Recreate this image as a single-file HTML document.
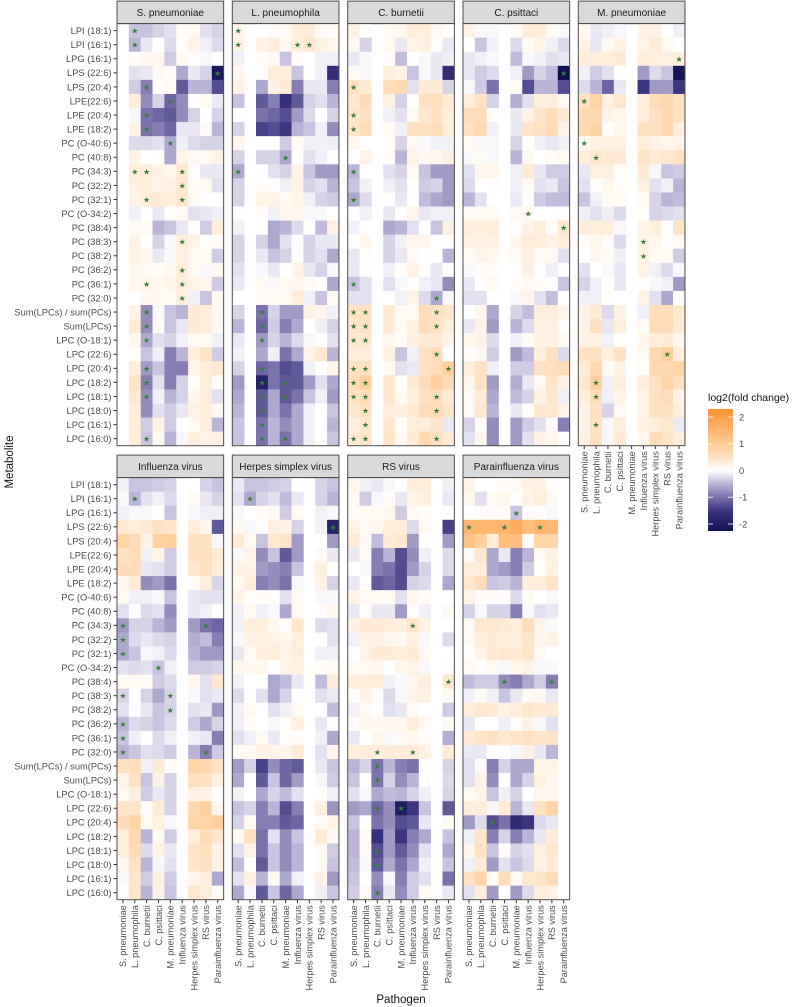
<!DOCTYPE html>
<html><head><meta charset="utf-8">
<style>
html,body{margin:0;padding:0;background:#fff;}
svg{display:block;font-family:"Liberation Sans",Arial,sans-serif;}
</style></head>
<body>
<svg id="chart" width="795" height="1007" viewBox="0 0 795 1007" xmlns="http://www.w3.org/2000/svg">
<text x="0" y="0" transform="translate(13,462) rotate(-90)" text-anchor="middle" font-size="11.5" fill="#111">Metabolite</text>
<text x="401" y="1003" text-anchor="middle" font-size="11.5" fill="#111">Pathogen</text>
</svg>
<script>
const pathogens = ["S. pneumoniae","L. pneumophila","C. burnetii","C. psittaci","M. pneumoniae","Influenza virus","Herpes simplex virus","RS virus","Parainfluenza virus"];
const metabolites = ["LPI (18:1)","LPI (16:1)","LPG (16:1)","LPS (22:6)","LPS (20:4)","LPE(22:6) ","LPE (20:4)","LPE (18:2)","PC (O-40:6)","PC (40:8)","PC (34:3)","PC (32:2)","PC (32:1)","PC (O-34:2)","PC (38:4)","PC (38:3)","PC (38:2)","PC (36:2)","PC (36:1)","PC (32:0)","Sum(LPCs) / sum(PCs)","Sum(LPCs)","LPC (O-18:1)","LPC (22:6)","LPC (20:4)","LPC (18:2)","LPC (18:1)","LPC (18:0)","LPC (16:1)","LPC (16:0)"];
const legendTicks = [2,1,0,-1,-2];
const _ = null;
const valsSpn = [
[_,-0.4,-0.4,-0.3,-0.2,0.1,0.1,-0.2,-0.3],
[_,-0.5,-0.15,0,-0.25,0.05,0.2,-0.1,-0.25],
[_,0.05,0.1,0.15,-0.35,0.1,0.05,-0.05,0],
[_,-0.2,-0.15,0.1,0.05,-0.6,-0.15,-0.3,-2.1],
[_,-0.35,-0.9,0.05,0.1,-1.2,-0.5,-0.5,-1.3],
[_,0.3,-0.8,-0.3,-1.1,-0.8,0,0.1,-0.15],
[_,-0.05,-1.0,-1.1,-1.2,-0.8,-0.3,0,-0.3],
[_,0.2,-1.0,-0.9,-1.1,-0.15,-0.15,0.1,-0.5],
[_,-0.25,-0.25,-0.2,-0.6,-0.1,-0.25,-0.3,-0.3],
[_,0.2,0,0.05,-0.6,0.2,0.1,0.1,0.2],
[_,0.3,0.3,0.2,0.15,0.4,0.05,-0.15,-0.15],
[_,0.25,0.3,0.2,0.2,0.4,0.05,0.1,-0.2],
[_,0.2,0.3,0.35,0.3,0.4,0.1,0,0],
[_,-0.1,0,-0.15,0.05,0.1,-0.2,-0.15,-0.1],
[_,0.1,0.1,-0.5,-0.4,-0.15,0.05,-0.35,0.3],
[_,0.2,0,-0.3,-0.05,0.3,0.2,0,0.05],
[_,0.2,0.15,-0.15,-0.05,0.25,0.1,0.1,-0.35],
[_,0.15,0.1,0.05,0.15,0.3,0.1,-0.05,0.1],
[_,0.15,0.2,0.1,0.2,0.3,0.2,0.15,-0.35],
[_,0,0.15,0.1,0.1,0.3,-0.1,-0.4,0.1],
[_,0.2,-0.8,-0.05,-0.4,-0.5,0.35,0.3,0.1],
[_,0.35,-0.8,0.1,-0.4,-0.15,0.35,0.3,0.1],
[_,0.15,-0.6,-0.2,-0.3,-0.1,0.1,0.1,-0.1],
[_,0.05,-0.4,-0.1,-0.9,-0.5,0.3,0.45,-0.35],
[_,0.3,-0.7,-0.4,-0.9,-0.9,0.2,0.3,0.4],
[_,0.45,-0.9,-0.2,-0.9,-0.3,0.05,0.3,0.05],
[_,0.4,-0.8,-0.1,-0.5,-0.3,0.15,0.3,-0.2],
[_,0.3,-0.8,-0.2,-0.35,-0.15,0.2,0.3,0.1],
[_,0.3,-0.35,0.2,-0.35,0,0.1,0.3,-0.5],
[_,0.3,-0.4,0.1,-0.5,-0.05,0.3,0.2,0.2]];
const valsLpn = [
[0.15,_,0,0.05,0.1,0.3,0.3,0.1,0.05],
[0.2,_,0.2,0.3,0.1,0.3,0.4,0.25,0.15],
[-0.1,_,0.05,0.1,-0.4,0.05,0,-0.1,-0.1],
[0.15,_,0.05,0.3,0.3,-0.4,0.05,-0.1,-1.6],
[0.2,_,-0.6,0.2,0.35,-0.9,-0.15,-0.15,-0.9],
[-0.4,_,-1.2,-0.9,-1.6,-1.2,-0.3,-0.2,-0.5],
[0.05,_,-1.0,-1.1,-1.3,-0.7,-0.25,0,-0.3],
[-0.3,_,-1.4,-1.3,-1.5,-0.5,-0.4,-0.1,-0.8],
[0.15,_,0,0,-0.35,0.1,-0.1,-0.1,-0.1],
[-0.3,_,-0.3,-0.3,-0.6,0,-0.2,-0.1,0],
[-0.6,_,0,-0.2,-0.3,0.2,-0.4,-0.7,-0.7],
[-0.3,_,0.05,0,-0.1,0.2,-0.3,-0.2,-0.5],
[-0.3,_,0.2,0.2,0.1,0.2,-0.1,-0.3,-0.35],
[0.05,_,0.05,-0.1,0.15,0.15,-0.05,-0.05,0],
[-0.1,_,0,-0.6,-0.5,-0.25,0,-0.45,0.25],
[-0.3,_,-0.3,-0.6,-0.2,0,-0.3,-0.15,-0.15],
[-0.3,_,-0.15,-0.4,-0.3,0,-0.3,-0.2,-0.6],
[-0.2,_,-0.05,-0.15,0,0.2,-0.15,-0.3,-0.05],
[-0.15,_,0.1,-0.05,0.1,0.15,0.1,0,-0.6],
[0,_,0.1,0.1,0.1,0.3,-0.1,-0.4,0.1],
[-0.3,_,-1.0,-0.3,-0.7,-0.7,0.2,0.15,-0.1],
[-0.5,_,-1.1,-0.35,-0.9,-0.6,0,-0.1,-0.3],
[-0.15,_,-0.7,-0.3,-0.5,-0.25,-0.05,0.05,-0.2],
[-0.1,_,-0.6,-0.1,-1.0,-0.6,0.2,0.4,-0.5],
[-0.3,_,-1.1,-1.0,-1.3,-1.2,-0.1,0,0.15],
[-0.7,_,-1.9,-1.0,-1.2,-1.2,-0.7,-0.2,-0.6],
[-0.6,_,-1.2,-0.6,-1.2,-1.0,-0.4,-0.1,-0.7],
[-0.5,_,-1.2,-0.6,-1.0,-0.6,-0.1,0,-0.4],
[-0.4,_,-1.0,-0.5,-0.8,-0.6,-0.1,0,-0.5],
[-0.4,_,-1.0,-0.5,-1.0,-0.6,-0.1,0,-0.4]];
const valsCbu = [
[0.2,0,_,0.1,0.15,0.3,0.3,0.1,0.05],
[0.1,-0.3,_,0.1,-0.15,0.2,0.25,0.05,-0.15],
[-0.15,-0.05,_,0.05,-0.45,0,-0.05,-0.15,-0.1],
[0.1,-0.05,_,0.3,0.2,-0.4,-0.05,-0.15,-1.7],
[0.5,0.35,_,0.6,0.7,-0.2,0.35,0.35,-0.3],
[0.4,0.6,_,0.25,-0.3,0.05,0.5,0.55,0.35],
[0.45,0.5,_,-0.1,-0.2,0.1,0.4,0.5,0.3],
[0.45,0.6,_,0.1,-0.1,0.5,0.5,0.6,0.3],
[0.15,0,_,0.05,-0.3,0.1,-0.05,-0.1,-0.1],
[0,0.2,_,0.05,-0.5,0.2,0.1,0.15,0.25],
[-0.5,0,_,-0.2,-0.3,0.1,-0.4,-0.7,-0.7],
[-0.4,-0.1,_,-0.1,-0.2,0.05,-0.35,-0.3,-0.7],
[-0.6,-0.25,_,0,-0.15,0,-0.45,-0.6,-0.7],
[0,-0.1,_,-0.15,0.05,0.15,-0.15,-0.1,-0.1],
[-0.1,0,_,-0.6,-0.5,-0.2,0,-0.4,0.25],
[0,0.15,_,-0.3,-0.1,0.15,0.15,0,0.05],
[-0.15,0.05,_,-0.3,-0.15,0.1,0,0,-0.5],
[-0.15,0.05,_,-0.1,0.05,0.2,0,-0.15,0],
[-0.4,-0.2,_,-0.2,-0.05,0.05,-0.1,-0.15,-0.8],
[-0.2,-0.2,_,0,-0.1,0.2,-0.25,-0.6,-0.05],
[0.5,0.5,_,0.35,0.1,0.1,0.6,0.5,0.45],
[0.4,0.5,_,0.35,0.1,0.25,0.6,0.5,0.3],
[0.4,0.4,_,0.15,0.05,0.25,0.35,0.35,0.2],
[0.3,0.3,_,0.25,-0.4,-0.1,0.5,0.6,0],
[0.5,0.5,_,0.1,-0.2,-0.15,0.5,0.6,0.9],
[0.6,0.9,_,0.4,0.05,0.35,0.6,0.9,0.6],
[0.5,0.6,_,0.4,0.1,0.25,0.5,0.6,0.35],
[0.4,0.5,_,0.3,0.25,0.35,0.6,0.6,0.45],
[0.25,0.4,_,0.4,0.05,0.3,0.3,0.45,-0.15],
[0.35,0.45,_,0.45,0.1,0.35,0.7,0.5,0.35]];
const valsCps = [
[0.2,-0.05,-0.05,_,0.05,0.3,0.3,0.1,-0.05],
[0,-0.4,-0.1,_,-0.25,0.1,0.2,-0.1,-0.25],
[-0.15,-0.1,-0.05,_,-0.45,-0.05,-0.1,-0.2,-0.15],
[-0.15,-0.35,-0.25,_,-0.1,-0.7,-0.3,-0.45,-2.3],
[-0.05,-0.35,-1.0,_,0.1,-1.3,-0.5,-0.5,-1.3],
[0.3,0.5,-0.3,_,-0.55,-0.2,0.3,0.3,0.1],
[0.6,0.6,0.05,_,-0.15,0.2,0.45,0.6,0.35],
[0.55,0.7,-0.1,_,-0.15,0.45,0.5,0.65,0.2],
[0.1,-0.05,-0.05,_,-0.3,0.05,-0.1,-0.15,-0.1],
[-0.05,0.1,-0.05,_,-0.5,0.1,0,0.05,0.1],
[-0.2,0.15,0.15,_,-0.1,0.35,-0.15,-0.35,-0.35],
[-0.25,0,0.05,_,-0.1,0.1,-0.2,-0.15,-0.4],
[-0.5,-0.2,0,_,-0.15,0.05,-0.35,-0.45,-0.45],
[0.1,0.1,0.1,_,0.1,0.1,0,0,0.05],
[0.3,0.3,0.3,_,0.05,0.2,0.3,0.05,0.4],
[0.2,0.25,0.2,_,0.15,0.3,0.3,0.2,0.3],
[0.1,0.2,0.15,_,0.1,0.2,0.1,0.1,-0.2],
[-0.05,0.05,0.05,_,0.05,0.2,0,-0.1,0.05],
[-0.15,0,0.1,_,0.05,0.1,0.05,0,-0.4],
[-0.2,-0.2,0,_,-0.05,0.15,-0.2,-0.45,0],
[0,0.15,-0.6,_,-0.3,-0.45,0.3,0.3,0.15],
[-0.15,0.2,-0.7,_,-0.5,-0.25,0.2,0.25,0.05],
[0.15,0.2,-0.25,_,-0.1,0.1,0.2,0.2,0.1],
[0.05,0.1,-0.35,_,-0.7,-0.45,0.3,0.5,-0.25],
[0.3,0.5,-0.1,_,-0.35,-0.35,0.5,0.55,0.6],
[0.15,0.5,-0.7,_,-0.55,-0.15,0.1,0.45,0.2],
[0.1,0.35,-0.6,_,-0.45,-0.3,0.2,0.4,-0.1],
[0.1,0.4,-0.5,_,-0.15,0.05,0.4,0.4,0.2],
[-0.3,0.05,-0.8,_,-0.7,-0.35,-0.2,0.05,-0.9],
[-0.2,0.15,-0.8,_,-0.7,-0.2,0.2,0.15,0]];
const valsMpn = [
[0.15,-0.15,-0.1,-0.05,_,0.2,0.2,0,-0.1],
[0.2,-0.15,0.1,0.2,_,0.2,0.35,0.1,0],
[0.3,0.3,0.3,0.35,_,0.3,0.3,0.25,0.3],
[-0.1,-0.35,-0.2,0.05,_,-0.7,-0.25,-0.4,-2.2],
[-0.25,-0.5,-1.1,-0.15,_,-1.5,-0.7,-0.7,-1.5],
[0.5,0.8,0.25,0.4,_,0.3,0.6,0.7,0.5],
[0.7,0.7,0.2,0.15,_,0.3,0.5,0.7,0.5],
[0.7,0.8,0.05,0.15,_,0.5,0.5,0.7,0.3],
[0.1,0.25,0.25,0.25,_,0.3,0.2,0.15,0.2],
[0.3,0.4,0.35,0.35,_,0.45,0.35,0.4,0.5],
[-0.15,0.25,0.25,0.05,_,0.35,-0.05,-0.4,-0.35],
[-0.2,0.05,0.15,0.05,_,0.25,-0.2,-0.1,-0.5],
[-0.4,-0.1,0.1,0.1,_,0.1,-0.3,-0.5,-0.45],
[-0.1,-0.2,-0.1,-0.25,_,0.05,-0.3,-0.25,-0.2],
[0.3,0.3,0.3,-0.05,_,0.2,0.3,0,0.45],
[0.05,0.15,0.05,-0.25,_,0.2,0.15,0.05,0.1],
[0,0.15,0.1,-0.1,_,0.2,0.1,0.1,-0.35],
[-0.2,0,-0.05,-0.15,_,0.2,-0.1,-0.25,-0.05],
[-0.3,-0.1,0.05,-0.15,_,0.05,-0.05,-0.1,-0.7],
[-0.1,-0.1,0.05,0,_,0.2,-0.2,-0.6,0],
[0.2,0.35,-0.25,0.2,_,-0.1,0.6,0.6,0.4],
[0.2,0.5,-0.15,0.3,_,0.1,0.6,0.6,0.35],
[0.2,0.25,-0.1,0.05,_,0.15,0.3,0.35,0.15],
[0.5,0.5,0.25,0.5,_,0.1,0.7,0.9,0.3],
[0.35,0.7,0.1,0.2,_,0.05,0.7,0.7,0.8],
[0.4,0.9,-0.1,0.3,_,0.3,0.5,0.8,0.5],
[0.3,0.6,-0.1,0.2,_,0.2,0.5,0.6,0.2],
[0.2,0.5,-0.3,0.1,_,0.2,0.5,0.5,0.3],
[0.2,0.5,-0.05,0.3,_,0.25,0.3,0.4,-0.15],
[0.25,0.5,-0.05,0.35,_,0.15,0.6,0.45,0.3]];
const valsFlu = [
[-0.1,-0.4,-0.4,-0.35,-0.3,_,0,-0.3,-0.4],
[-0.05,-0.5,-0.2,-0.1,-0.25,_,0.1,-0.15,-0.3],
[-0.1,-0.05,-0.05,0,-0.4,_,-0.05,-0.1,-0.1],
[0.4,0.3,0.35,0.5,0.45,_,0.3,0.15,-1.2],
[0.8,0.6,0.2,0.85,0.9,_,0.5,0.5,-0.05],
[0.5,0.65,-0.1,0.2,-0.35,_,0.5,0.55,0.35],
[0.6,0.6,-0.15,-0.2,-0.35,_,0.4,0.5,0.3],
[0.15,0.35,-0.8,-0.7,-1.0,_,0.05,0.3,-0.3],
[0.1,-0.1,-0.1,-0.05,-0.4,_,-0.15,-0.2,-0.2],
[-0.2,0,-0.25,-0.2,-0.8,_,-0.15,-0.1,0],
[-0.7,-0.3,-0.3,-0.5,-0.7,_,-0.7,-1.0,-1.1],
[-0.6,-0.25,-0.15,-0.25,-0.3,_,-0.55,-0.45,-0.9],
[-0.6,-0.4,-0.05,-0.1,-0.25,_,-0.5,-0.7,-0.7],
[-0.2,-0.25,-0.2,-0.4,-0.1,_,-0.35,-0.35,-0.3],
[0.1,0.1,0.1,-0.35,-0.25,_,0.15,-0.2,0.4],
[-0.3,0,-0.3,-0.6,-0.3,_,-0.05,-0.2,-0.15],
[-0.2,0,-0.15,-0.4,-0.3,_,-0.2,-0.15,-0.7],
[-0.5,-0.25,-0.3,-0.4,-0.25,_,-0.35,-0.6,-0.3],
[-0.4,-0.1,0,-0.25,-0.1,_,-0.1,-0.15,-0.9],
[-0.5,-0.4,-0.2,-0.25,-0.35,_,-0.5,-0.9,-0.35],
[0.5,0.6,-0.1,0.35,0.05,_,0.8,0.7,0.5],
[0.2,0.5,-0.4,0.2,-0.3,_,0.55,0.5,0.25],
[0.1,0.25,-0.35,-0.15,-0.3,_,0.2,0.2,0],
[0.45,0.45,0.05,0.35,-0.3,_,0.7,0.9,0.15],
[0.6,0.8,0.1,0.25,-0.05,_,0.8,0.8,0.9],
[0.3,0.7,-0.5,0.1,-0.35,_,0.3,0.6,0.4],
[0.3,0.65,-0.25,0.2,-0.15,_,0.45,0.55,0.2],
[0.15,0.5,-0.5,-0.05,-0.2,_,0.45,0.5,0.2],
[-0.05,0.45,-0.35,0.25,-0.35,_,0.15,0.3,-0.6],
[0.05,0.45,-0.5,0.2,-0.4,_,0.4,0.3,0.05]];
const valsHsv = [
[-0.15,-0.4,-0.4,-0.35,-0.3,0,_,-0.3,-0.4],
[-0.2,-0.6,-0.3,-0.2,-0.45,-0.15,_,-0.3,-0.5],
[-0.05,0,0.05,0.1,-0.35,0.1,_,-0.1,-0.05],
[0.1,-0.05,0,0.25,0.2,-0.3,_,-0.1,-1.9],
[0.35,0.1,-0.4,0.4,0.45,-0.7,_,0,-0.7],
[-0.05,0.2,-0.8,-0.4,-1.2,-0.7,_,0.1,-0.15],
[0.2,0.2,-0.7,-0.8,-0.9,-0.4,_,0.25,0],
[0.1,0.3,-0.9,-0.8,-1.0,-0.05,_,0.2,-0.3],
[0.2,0.05,0.05,0.05,-0.2,0.1,_,-0.05,-0.05],
[-0.1,0.1,-0.1,-0.05,-0.6,0.1,_,0.05,0.15],
[-0.1,0.3,0.3,0.15,0.05,0.4,_,-0.25,-0.2],
[-0.05,0.2,0.25,0.2,0.15,0.3,_,0.05,-0.2],
[-0.15,0.1,0.3,0.3,0.2,0.3,_,-0.1,-0.1],
[0.15,0.1,0.15,0,0.2,0.25,_,0.05,0.1],
[-0.1,0,0,-0.6,-0.45,-0.15,_,-0.45,0.3],
[-0.25,0,-0.2,-0.6,-0.3,0,_,-0.2,-0.15],
[-0.1,0.1,0,-0.2,-0.1,0.1,_,0,-0.45],
[-0.1,0.05,0,-0.05,0.05,0.25,_,-0.15,0],
[-0.2,-0.1,0.1,-0.15,0,0.05,_,-0.1,-0.6],
[0.1,0.1,0.2,0.2,0.15,0.35,_,-0.2,0.15],
[-0.7,-0.3,-1.4,-0.8,-1.1,-1.2,_,-0.15,-0.4],
[-0.6,0,-1.2,-0.4,-1.1,-0.7,_,-0.05,-0.35],
[-0.1,0,-0.6,-0.3,-0.45,-0.2,_,0.05,-0.1],
[-0.4,-0.3,-0.9,-0.5,-1.3,-0.9,_,0.25,-0.75],
[-0.3,0.1,-0.9,-0.9,-1.2,-1.1,_,0.1,0.2],
[0.1,0.5,-1.0,-0.2,-0.8,-0.4,_,0.35,0.1],
[-0.2,0.2,-1.0,-0.4,-0.8,-0.5,_,0.1,-0.35],
[-0.45,0,-1.2,-0.4,-0.8,-0.5,_,0.1,-0.4],
[-0.2,0.25,-0.5,0.1,-0.6,-0.1,_,0.2,-0.7],
[-0.6,-0.05,-1.2,-0.4,-1.1,-0.6,_,-0.1,-0.4]];
const valsRsv = [
[0.15,-0.1,-0.15,-0.05,0,0.3,0.3,_,-0.1],
[0.1,-0.35,-0.05,0.05,-0.15,0.2,0.25,_,-0.15],
[0.05,0.1,0.1,0.15,-0.35,0.1,0.05,_,0.05],
[0.2,0.1,0.15,0.3,0.3,-0.25,0.1,_,-1.4],
[0.35,0.1,-0.45,0.35,0.4,-0.7,0,_,-0.7],
[-0.15,0.1,-0.9,-0.5,-1.3,-0.8,-0.1,_,-0.25],
[0,-0.05,-0.9,-1.0,-1.3,-0.7,-0.3,_,-0.25],
[-0.15,0.05,-1.2,-1.1,-1.3,-0.3,-0.25,_,-0.6],
[0.2,0.1,0.1,0.1,-0.2,0.15,0.05,_,0],
[-0.15,0.05,-0.15,-0.15,-0.7,0.05,-0.1,_,0.1],
[0.2,0.35,0.35,0.3,0.25,0.45,0.2,_,0],
[-0.1,0.2,0.2,0.15,0.1,0.25,-0.05,_,-0.25],
[0,0.2,0.35,0.35,0.3,0.35,0.1,_,0],
[0.1,0.1,0.15,0,0.15,0.2,-0.05,_,0.05],
[0.3,0.3,0.3,-0.1,-0.05,0.15,0.25,_,0.4],
[0.05,0.2,0,-0.25,-0.05,0.2,0.2,_,0.1],
[-0.1,0.1,0,-0.2,-0.15,0.1,0,_,-0.35],
[0.05,0.15,0.1,0.1,0.15,0.3,0.1,_,0.1],
[-0.15,0,0.15,-0.05,0.1,0.15,0.05,_,-0.55],
[0.3,0.3,0.3,0.3,0.3,0.35,0.2,_,0.35],
[-0.5,-0.3,-1.0,-0.5,-0.9,-1.0,0.05,_,-0.3],
[-0.4,0.05,-1.0,-0.3,-0.8,-0.5,0.05,_,-0.25],
[-0.2,-0.05,-0.6,-0.45,-0.5,-0.3,-0.1,_,-0.3],
[-0.7,-0.6,-1.1,-0.8,-2.0,-1.5,-0.4,_,-1.2],
[-0.4,0,-1.0,-0.8,-1.3,-1.2,-0.15,_,0.1],
[-0.5,0.1,-1.6,-0.7,-1.5,-0.9,-0.6,_,-0.4],
[-0.5,0.1,-1.3,-0.7,-1.2,-0.8,-0.2,_,-0.6],
[-0.45,-0.05,-1.2,-0.6,-1.0,-0.6,-0.1,_,-0.4],
[-0.4,0.05,-0.8,-0.05,-0.9,-0.35,-0.2,_,-1.0],
[-0.35,0.1,-0.9,-0.15,-0.8,-0.35,0.1,_,-0.15]];
const valsPiv = [
[0.2,0,0,0.05,0.1,0.2,0.25,0.05,_],
[0.15,-0.2,0.1,0.15,0.05,0.2,0.3,0.1,_],
[0,0.05,0.05,0.05,-0.4,0.05,0.05,-0.05,_],
[1.5,1.5,1.5,1.5,1.7,1.3,1.5,1.4,_],
[1.2,0.9,0.3,1.3,1.3,0.05,0.8,0.8,_],
[0.1,0.4,-0.6,-0.15,-0.9,-0.5,0.1,0.2,_],
[0.3,0.3,-0.6,-0.7,-0.9,-0.35,0.05,0.25,_],
[0.4,0.6,-0.4,-0.35,-0.5,0.3,0.3,0.45,_],
[0.2,0.05,0.05,0.05,-0.25,0.1,0,-0.05,_],
[-0.3,-0.05,-0.3,-0.3,-0.9,-0.05,-0.2,-0.15,_],
[0.1,0.4,0.4,0.35,0.3,0.6,0.2,-0.05,_],
[0.1,0.3,0.35,0.3,0.3,0.45,0.15,0.2,_],
[0,0.2,0.35,0.4,0.35,0.45,0.1,0,_],
[0.1,0,0.1,-0.05,0.15,0.2,-0.05,-0.05,_],
[-0.45,-0.35,-0.35,-0.8,-0.9,-0.6,-0.35,-0.9,_],
[-0.1,0.1,-0.1,-0.4,-0.15,0.1,0.1,-0.15,_],
[0.3,0.4,0.35,0.2,0.3,0.4,0.35,0.35,_],
[-0.15,0,0,-0.1,0.05,0.2,-0.05,-0.2,_],
[0.35,0.45,0.5,0.4,0.45,0.5,0.45,0.45,_],
[-0.15,-0.15,0,0,-0.05,0.2,-0.15,-0.5,_],
[-0.2,0.05,-0.9,-0.3,-0.6,-0.6,0.2,0.2,_],
[-0.2,0.2,-0.8,0,-0.6,-0.3,0.25,0.15,_],
[0.1,0.2,-0.4,-0.1,-0.3,0,0.15,0.15,_],
[0.3,0.3,-0.05,0.35,-0.5,-0.15,0.5,0.8,_],
[-0.7,-0.25,-1.3,-1.0,-1.7,-1.5,-0.25,-0.15,_],
[-0.1,0.45,-0.9,-0.3,-0.9,-0.5,-0.15,0.3,_],
[0.15,0.5,-0.4,0.05,-0.3,-0.2,0.25,0.4,_],
[-0.1,0.35,-0.7,-0.2,-0.4,-0.25,0.2,0.35,_],
[0.5,0.8,0.05,0.6,0.1,0.4,0.45,0.6,_],
[-0.2,0.3,-0.7,0,-0.7,-0.25,0.3,0.2,_]];
const starsSpn = ["1,2","2,2","4,9","5,3","6,5","7,3","8,3","9,5","11,2","11,3","11,6","12,6","13,3","13,6","16,6","18,6","19,3","19,6","20,6","21,3","22,3","23,3","25,3","26,3","27,3","30,3"];
const starsLpn = ["1,1","2,1","2,6","2,7","10,5","11,1","21,3","22,3","23,3","25,3","26,3","26,5","27,3","27,5","28,3","29,3","30,3","30,5"];
const starsCbu = ["5,1","7,1","8,1","11,1","13,1","19,1","20,8","21,1","21,2","21,8","22,1","22,2","22,8","23,1","23,2","24,8","25,1","25,2","25,9","26,1","26,2","27,1","27,2","27,8","28,2","28,8","29,2","30,1","30,2","30,8"];
const starsCps = ["4,9","14,6","15,9"];
const starsMpn = ["3,9","6,1","9,1","10,2","16,6","17,6","24,8","26,2","27,2","29,2"];
const starsFlu = ["2,2","11,1","11,8","12,1","13,1","14,4","16,1","16,5","17,5","18,1","19,1","20,1","20,8"];
const starsHsv = ["2,2","4,9"];
const starsRsv = ["11,6","15,9","20,3","20,6","21,3","22,3","24,3","24,5","27,3","28,3","30,3"];
const starsPiv = ["3,5","4,1","4,4","4,7","15,4","15,8","25,3"];

const panelVals = [valsSpn,valsLpn,valsCbu,valsCps,valsMpn,valsFlu,valsHsv,valsRsv,valsPiv];
const panelStars = [starsSpn,starsLpn,starsCbu,starsCps,starsMpn,starsFlu,starsHsv,starsRsv,starsPiv];

const NS="http://www.w3.org/2000/svg";
const svg=document.getElementById('chart');
function mk(tag,attrs,parent){const e=document.createElementNS(NS,tag);for(const k in attrs)e.setAttribute(k,attrs[k]);(parent||svg).appendChild(e);return e;}

const stops=[[-2.3,[16,16,80]],[-1.5,[60,53,128]],[-1,[122,114,170]],[-0.5,[186,181,215]],[0,[255,255,255]],[0.5,[255,226,196]],[1,[255,203,148]],[2,[255,160,74]],[2.3,[255,149,51]]];
function color(v){
  if(v<=stops[0][0])return 'rgb('+stops[0][1]+')';
  for(let i=1;i<stops.length;i++){if(v<=stops[i][0]){const a=stops[i-1],b=stops[i];const t=(v-a[0])/(b[0]-a[0]);
    return 'rgb('+a[1].map((c,j)=>Math.round(c+(b[1][j]-c)*t)).join(',')+')';}}
  return 'rgb('+stops[stops.length-1][1]+')';
}

const colW=11.85, rowH=14.07, panelW=colW*9;
const panelX=[117,232.3,347.7,463,578.3];
const topY=23.6, botY=477.6;
function xScale(p,c){return panelX[p%5]+c*colW;}
function yScale(p,r){return (p<5?topY:botY)+r*rowH;}

for(let p=0;p<9;p++){
  const g=mk('g',{});
  
  
  const px=panelX[p%5], py=(p<5?topY:botY);
  const strip=mk('rect',{x:px,y:py-22.5,width:panelW,height:22.5,fill:'#d9d9d9',stroke:'#4d4d4d','stroke-width':1},g);
  
  
  const st=mk('text',{x:px+panelW/2,y:py-7.5,'text-anchor':'middle','font-size':10,fill:'#1a1a1a'},g);
  st.textContent=pathogens[p];
  
  
  const vals=panelVals[p];
  for(let r=0;r<vals.length;r++)for(let c=0;c<9;c++){
    const v=vals[r][c]; if(v===null)continue;
    const cell=mk('rect',{x:xScale(p,c),y:yScale(p,r),width:colW+0.3,height:rowH+0.3,fill:color(v)},g);
    
    
  }
  for(const s of panelStars[p]){
    const [r,c]=s.split(',').map(Number);
    const t=mk('text',{x:xScale(p,c-1)+colW/2,y:yScale(p,r-1)+rowH/2+3,'text-anchor':'middle','font-size':8,fill:'#3a7d3a'},g);
    t.textContent='★';
    
    
  }
  const border=mk('rect',{x:px,y:py,width:panelW,height:rowH*30,fill:'none',stroke:'#4d4d4d','stroke-width':1},g);
  
  
  if(p%5===0){
    for(let r=0;r<30;r++){
      const y=yScale(p,r)+rowH/2;
      mk('line',{x1:px-3.5,x2:px,y1:y,y2:y,stroke:'#333','stroke-width':1},g);
      const t=mk('text',{x:px-5.5,y:y+3.4,'text-anchor':'end','font-size':9.3,fill:'#4d4d4d'},g);
      t.textContent=metabolites[r];
      
      
    }
  }
  if(p>=4){
    const by=py+rowH*30;
    for(let c=0;c<9;c++){
      const x=xScale(p,c)+colW/2;
      mk('line',{x1:x,x2:x,y1:by,y2:by+3.5,stroke:'#333','stroke-width':1},g);
      const t=mk('text',{x:0,y:0,transform:'translate('+(x+3.3)+','+(by+5.5)+') rotate(-90)','text-anchor':'end','font-size':9.2,fill:'#4d4d4d'},g);
      t.textContent=pathogens[c];
      
      
    }
  }
}

const lg=mk('g',{});


const lt=mk('text',{x:708,y:401,'font-size':10.5,fill:'#111'},lg);
lt.textContent='log2(fold change)';


const defs=mk('defs',{});
const grad=mk('linearGradient',{id:'lgrad',x1:0,y1:0,x2:0,y2:1},defs);
const barTop=409, barBot=531, unit=26.75, zeroY=470.5;
function legY(v){return zeroY-v*unit;}
for(let i=0;i<=40;i++){const y=barTop+(barBot-barTop)*i/40;const v=(zeroY-y)/unit;mk('stop',{offset:(i/40),'stop-color':color(v)},grad);}
const bar=mk('rect',{x:708,y:barTop,width:25,height:barBot-barTop,fill:'url(#lgrad)'},lg);


for(const v of legendTicks){
  const y=legY(v);
  mk('line',{x1:708,x2:713,y1:y,y2:y,stroke:'#fff','stroke-width':1,opacity:0.8},lg);
  mk('line',{x1:728,x2:733,y1:y,y2:y,stroke:'#fff','stroke-width':1,opacity:0.8},lg);
  const t=mk('text',{x:739,y:y+3.4,'font-size':9.3,fill:'#4d4d4d'},lg);
  t.textContent=String(v);
  
  
}
</script>
</body></html>
